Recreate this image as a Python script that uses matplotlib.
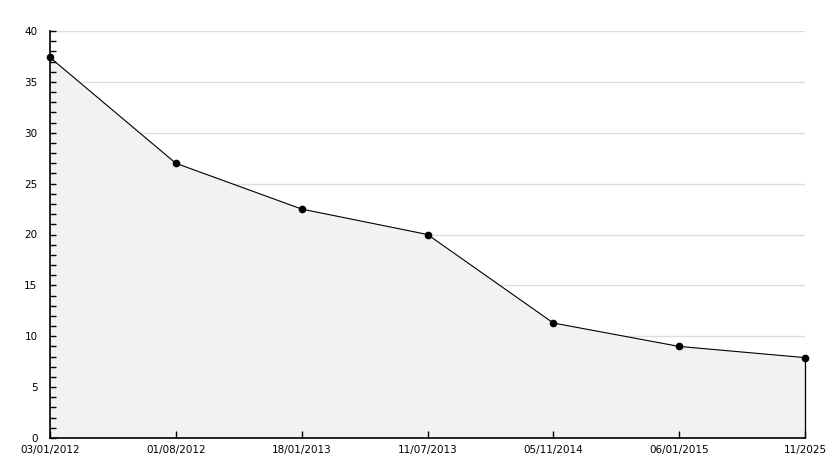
import numpy as np
import matplotlib.pyplot as plt
from matplotlib.ticker import MultipleLocator

dates = ['03/01/2012', '01/08/2012', '18/01/2013', '11/07/2013',
         '05/11/2014', '06/01/2015', '11/2025']
values = [37.4, 27.0, 22.5, 20.0, 11.3, 9.0, 7.9]

fig = plt.figure(figsize=(8.34, 4.68), dpi=100)
ax = fig.add_axes([50 / 834, 30 / 468, 755 / 834, 407 / 468])

x = np.arange(len(dates))

# grid lines drawn by hand so the fill covers them, ticks stay on top
for yv in range(5, 41, 5):
    ax.axhline(yv, color='#dddddd', linewidth=1, zorder=0.2)

ax.fill_between(x, values, 0, color='#f2f2f2', zorder=1)
ax.plot(x, values, color='black', linewidth=0.8, marker='o', markersize=4.5,
        zorder=5, clip_on=False)
ax.vlines(x[-1], 0, values[-1], color='black', linewidth=0.9, zorder=3, clip_on=False)

ax.set_xlim(0, len(dates) - 1)
ax.set_ylim(0, 40)
ax.set_xticks(x)
ax.set_xticklabels(dates)
ax.yaxis.set_major_locator(MultipleLocator(5))
ax.yaxis.set_minor_locator(MultipleLocator(1))
ax.set_axisbelow(False)

for side in ['top', 'right']:
    ax.spines[side].set_visible(False)
for side in ['left', 'bottom']:
    ax.spines[side].set_linewidth(1.2)
    ax.spines[side].set_zorder(4)

ax.tick_params(axis='y', which='major', direction='in', length=4.5, width=1, labelsize=7.5, pad=9)
ax.tick_params(axis='y', which='minor', direction='in', length=4.5, width=1)
ax.tick_params(axis='x', direction='in', length=5, width=1, labelsize=7.5, pad=5)

plt.savefig('out.png', dpi=100)
